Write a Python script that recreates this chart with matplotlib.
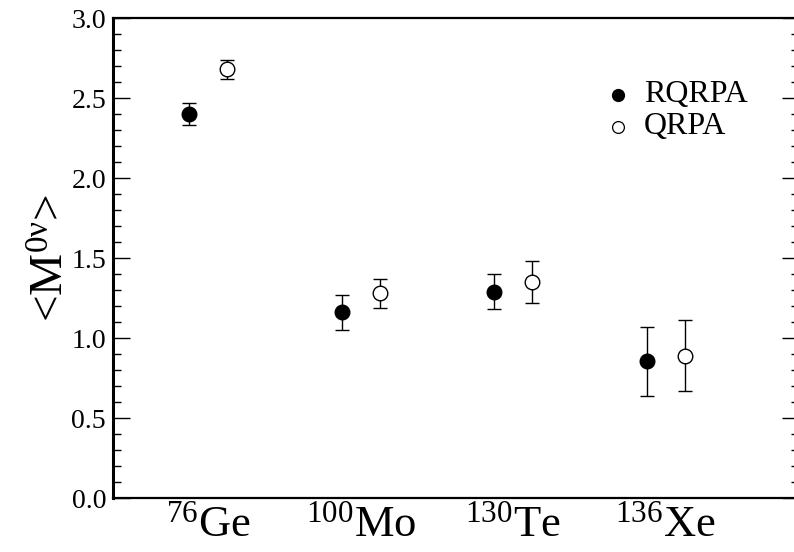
import matplotlib
matplotlib.use("Agg")
import matplotlib.pyplot as plt
from matplotlib.ticker import MultipleLocator, FixedLocator

plt.rcParams['font.family'] = ['Liberation Serif', 'DejaVu Serif']
plt.rcParams['mathtext.fontset'] = 'custom'
plt.rcParams['mathtext.rm'] = 'Liberation Serif'
plt.rcParams['mathtext.it'] = 'Liberation Serif'

nuclei = [r'$^{76}$Ge', r'$^{100}$Mo', r'$^{130}$Te', r'$^{136}$Xe']
label_pos = [0.5, 1.3, 2.1, 2.9]

x_rqrpa = [0.4, 1.2, 2.0, 2.8]
y_rqrpa = [2.40, 1.16, 1.29, 0.855]
err_rqrpa = [0.07, 0.11, 0.11, 0.215]

x_qrpa = [0.6, 1.4, 2.2, 3.0]
y_qrpa = [2.68, 1.28, 1.35, 0.89]
err_qrpa = [0.06, 0.09, 0.13, 0.22]

fig = plt.figure(figsize=(7.94, 5.52), dpi=100)
ax = fig.add_axes([113 / 794, 54 / 552, 686 / 794, 480 / 552])

ax.errorbar(x_rqrpa, y_rqrpa, yerr=err_rqrpa, fmt='o', color='black',
            markersize=10.5, capsize=5, elinewidth=1, capthick=1,
            linestyle='none', zorder=3)
ax.errorbar(x_qrpa, y_qrpa, yerr=err_qrpa, fmt='o', color='black',
            markerfacecolor='white', markeredgewidth=1, markersize=10.5,
            capsize=5, elinewidth=1, capthick=1, linestyle='none', zorder=3)

# legend drawn as plain markers + text
ax.plot([2.65], [2.52], 'o', color='black', markersize=8.5)
ax.plot([2.65], [2.32], 'o', color='black', markerfacecolor='white',
        markeredgewidth=0.9, markersize=8.5)
ax.text(2.785, 2.52, 'RQRPA', fontsize=23, va='center', ha='left')
ax.text(2.785, 2.32, 'QRPA', fontsize=23, va='center', ha='left')

ax.set_xlim(0, 3.6)
ax.set_ylim(0, 3.0)

ax.yaxis.set_major_locator(MultipleLocator(0.5))
ax.yaxis.set_minor_locator(MultipleLocator(0.1))
ax.set_yticklabels([f'{v:.1f}' for v in ax.get_yticks()])
ax.tick_params(axis='y', which='major', direction='in', length=12, width=1,
               right=True, labelsize=20, pad=5)
ax.tick_params(axis='y', which='minor', direction='in', length=6, width=1,
               right=True)

ax.xaxis.set_major_locator(FixedLocator(label_pos))
ax.set_xticklabels(nuclei)
ax.tick_params(axis='x', which='major', length=0, labelsize=32, pad=5)

for s in ax.spines.values():
    s.set_linewidth(1.6)
ax.spines['left'].set_linewidth(2.2)
ax.spines['right'].set_visible(False)

ax.set_ylabel(r'<M$^{\mathrm{0ν}}$>', fontsize=34, labelpad=-2)

fig.savefig('out.png', dpi=100)
